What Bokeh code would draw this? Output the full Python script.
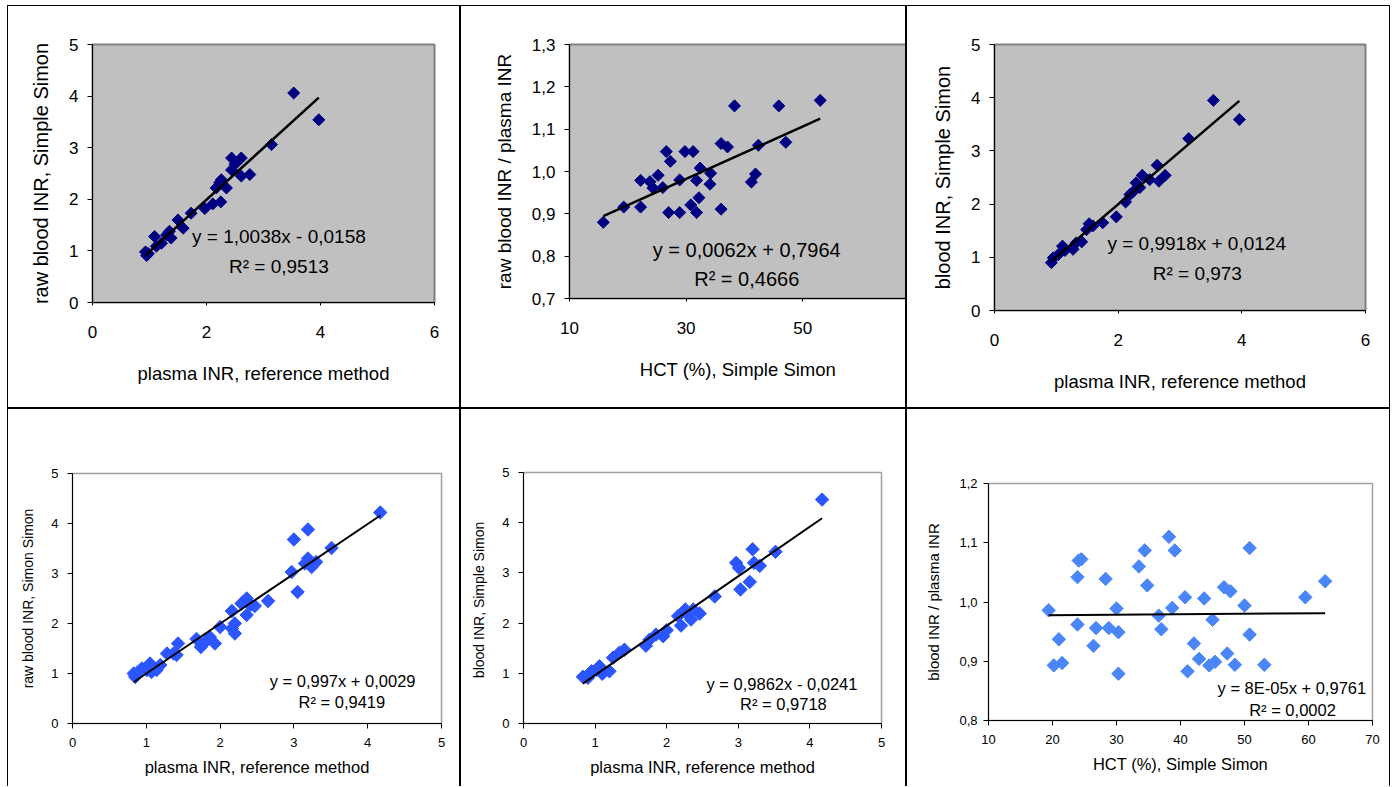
import numpy as np
from bokeh.plotting import figure
from bokeh.layouts import row, column
from bokeh.models import Range1d, FixedTicker, CustomJSTickFormatter, Label, Spacer
from bokeh.embed import file_html
from bokeh.resources import INLINE

FONT = "Liberation Sans"

# ---------------- data ----------------
# Panel 1: raw blood INR (Simple Simon) vs plasma INR
p1_x = [0.93, 0.95, 0.98, 1.09, 1.12, 1.21, 1.30, 1.38, 1.35, 1.50, 1.59, 1.73, 1.97,
        2.11, 2.25, 2.26, 2.35, 2.17, 2.23, 2.44, 2.44, 2.50, 2.61, 2.61, 2.76, 3.14, 3.53, 3.97]
p1_y = [0.98, 0.91, 0.95, 1.28, 1.09, 1.15, 1.31, 1.25, 1.38, 1.60, 1.44, 1.73, 1.82,
        1.91, 1.95, 2.38, 2.22, 2.22, 2.32, 2.80, 2.57, 2.68, 2.80, 2.45, 2.48, 3.06, 4.06, 3.54]
p1_fit = (1.0038, -0.0158)
p1_eq = ["y = 1,0038x - 0,0158", "R\u00b2 = 0,9513"]

# Panel 2: raw blood INR / plasma INR vs HCT
p2_x = [15.8, 19.3, 22.2, 22.2, 23.8, 24.3, 25.2, 26.0, 26.6, 27.3, 27.0, 28.9, 28.9, 29.8,
        30.8, 31.2, 31.8, 31.8, 32.2, 32.4, 34.2, 34.1, 36.0, 36.0, 37.1, 38.3, 41.2, 41.9,
        42.4, 45.9, 47.1, 53.0]
p2_y = [0.880, 0.916, 0.979, 0.916, 0.976, 0.961, 0.991, 0.962, 1.047, 1.024, 0.903, 0.980,
        0.903, 1.047, 0.921, 1.047, 0.979, 0.903, 0.938, 1.008, 0.996, 0.970, 0.911, 1.066,
        1.058, 1.155, 0.975, 0.994, 1.062, 1.155, 1.069, 1.168]
p2_fit = (0.0062, 0.7964)
p2_eq = ["y = 0,0062x + 0,7964", "R\u00b2 = 0,4666"]

# Panel 3: blood INR (Simple Simon) vs plasma INR
p3_x = [0.92, 0.95, 1.03, 1.10, 1.14, 1.27, 1.32, 1.41, 1.49, 1.53, 1.59, 1.75, 1.97, 2.12,
        2.19, 2.24, 2.29, 2.35, 2.39, 2.51, 2.63, 2.66, 2.76, 3.14, 3.54, 3.96]
p3_y = [0.90, 0.99, 1.05, 1.21, 1.13, 1.15, 1.27, 1.29, 1.52, 1.63, 1.59, 1.65, 1.76, 2.04,
        2.18, 2.23, 2.40, 2.31, 2.54, 2.46, 2.73, 2.43, 2.54, 3.23, 3.95, 3.59]
p3_fit = (0.9918, 0.0124)
p3_eq = ["y = 0,9918x + 0,0124", "R\u00b2 = 0,973"]

# Panel 4: raw blood INR (Simon Simon) vs plasma INR
p4_x = [0.85, 0.83, 0.89, 0.94, 1.01, 1.05, 1.07, 1.14, 1.19, 1.28, 1.37, 1.41, 1.43, 1.68,
        1.74, 1.80, 1.86, 1.93, 2.00, 2.16, 2.16, 2.20, 2.20, 2.29, 2.36, 2.36, 2.41, 2.47,
        2.65, 2.97, 3.00, 3.05, 3.15, 3.19, 3.19, 3.24, 3.30, 3.51, 4.17]
p4_y = [0.93, 1.00, 1.03, 1.10, 1.07, 1.20, 1.03, 1.07, 1.17, 1.40, 1.40, 1.37, 1.60, 1.69,
        1.53, 1.63, 1.73, 1.60, 1.93, 2.25, 1.90, 2.00, 1.80, 2.40, 2.50, 2.17, 2.37, 2.35,
        2.45, 3.03, 3.68, 2.63, 3.20, 3.88, 3.30, 3.13, 3.23, 3.51, 4.22]
p4_fit = (0.997, 0.0029)
p4_eq = ["y = 0,997x + 0,0029", "R\u00b2 = 0,9419"]

# Panel 5: blood INR (Simple Simon) vs plasma INR
p5_x = [0.83, 0.90, 0.95, 1.02, 1.06, 1.10, 1.20, 1.25, 1.34, 1.41, 1.71, 1.76, 1.85, 1.95,
        2.00, 2.16, 2.20, 2.26, 2.30, 2.34, 2.37, 2.46, 2.67, 2.97, 3.01, 3.03, 3.16, 3.20,
        3.22, 3.30, 3.52, 4.17]
p5_y = [0.93, 0.91, 1.04, 1.07, 1.14, 0.99, 1.04, 1.31, 1.41, 1.47, 1.55, 1.67, 1.77, 1.74,
        1.86, 2.14, 1.95, 2.27, 2.17, 2.07, 2.27, 2.19, 2.53, 3.20, 3.10, 2.67, 2.82, 3.47,
        3.20, 3.14, 3.42, 4.46]
p5_fit = (0.9862, -0.0241)
p5_eq = ["y = 0,9862x - 0,0241", "R\u00b2 = 0,9718"]

# Panel 6: blood INR / plasma INR vs HCT
p6_x = [19.4, 20.2, 21.0, 21.5, 23.9, 24.1, 24.5, 23.9, 26.4, 26.8, 28.3, 28.8, 30.0, 30.3,
        30.3, 33.5, 34.4, 34.8, 36.6, 37.0, 38.2, 38.7, 39.1, 40.7, 41.1, 42.1, 42.9, 43.7,
        44.5, 45.0, 45.4, 46.8, 47.3, 47.8, 48.5, 50.0, 50.8, 50.8, 53.1, 59.5, 62.6]
p6_y = [0.986, 0.893, 0.937, 0.897, 1.042, 1.070, 1.072, 0.962, 0.926, 0.956, 1.039, 0.956,
        0.989, 0.949, 0.879, 1.060, 1.087, 1.028, 0.977, 0.954, 1.110, 0.990, 1.087, 1.008,
        0.883, 0.930, 0.904, 1.006, 0.893, 0.970, 0.899, 1.025, 0.913, 1.018, 0.894, 0.994,
        1.091, 0.945, 0.894, 1.008, 1.035]
p6_fit = (0.00008, 0.9761)
p6_eq = ["y = 8E-05x + 0,9761", "R\u00b2 = 0,0002"]

ticks_inr6 = [0, 2, 4, 6]
ticks_inr5 = [0, 1, 2, 3, 4, 5]
ticks_y5 = [0, 1, 2, 3, 4, 5]
ticks_hct_top = [10, 30, 50]
ticks_hct_bot = [10, 20, 30, 40, 50, 60, 70]
ticks_ratio_top = [0.7, 0.8, 0.9, 1.0, 1.1, 1.2, 1.3]
ticks_ratio_bot = [0.8, 0.9, 1.0, 1.1, 1.2]

COMMA = CustomJSTickFormatter(code="return tick.toFixed(1).replace('.', ',');")

TOP = dict(bg="#C0C0C0", outline="#808080", ow=2, mcolor="#000080", msize=8.5,
           tick_fs="17px", xlab_fs="18.5px", ylab_fs="19px", eq_fs="19px", lw=2.5,
           x_tick_out=3, y_tick_out=5)
BOT = dict(bg="white", outline="#A0A0A0", ow=1.5, mcolor="#2A55FF", msize=9.5,
           tick_fs="13px", xlab_fs="16.5px", ylab_fs="14px", eq_fs="16.5px", lw=2,
           x_tick_out=5, y_tick_out=5)


def make(w, h, mb, xr, yr, xt, yt, xlab, ylab, xs, ys, fit, eq, eqpos, st,
         comma_y=False, ylab_fs=None, eq_fs=None, xstand=(18, 20), ystand=(8, 14),
         mcolor=None, bottom_border=True):
    p = figure(width=w, height=h, x_range=Range1d(*xr), y_range=Range1d(*yr),
               output_backend="svg", toolbar_location=None,
               min_border_left=mb[0], min_border_right=mb[1],
               min_border_top=mb[2], min_border_bottom=mb[3])
    p.xgrid.visible = False
    p.ygrid.visible = False
    p.background_fill_color = st["bg"]
    p.border_fill_color = "white"
    p.outline_line_color = st["outline"]
    p.outline_line_width = st["ow"]
    for ax, ticks, tout, stand in ((p.xaxis[0], xt, st["x_tick_out"], xstand),
                                  (p.yaxis[0], yt, st["y_tick_out"], ystand)):
        ax.ticker = FixedTicker(ticks=ticks, minor_ticks=[])
        ax.axis_line_color = "black"
        ax.axis_line_width = 1
        ax.major_tick_line_color = "black"
        ax.major_tick_in = 0
        ax.major_tick_out = tout
        ax.minor_tick_line_color = None
        ax.major_label_text_font = FONT
        ax.major_label_text_font_size = st["tick_fs"]
        ax.major_label_text_color = "black"
        ax.axis_label_text_font = FONT
        ax.axis_label_text_font_style = "normal"
        ax.axis_label_text_color = "black"
        ax.major_label_standoff = stand[0]
        ax.axis_label_standoff = stand[1]
    p.xaxis.axis_label = xlab
    p.yaxis.axis_label = ylab
    p.xaxis.axis_label_text_font_size = st["xlab_fs"]
    p.yaxis.axis_label_text_font_size = ylab_fs or st["ylab_fs"]
    if comma_y:
        p.yaxis.formatter = COMMA
    c = mcolor or st["mcolor"]
    p.scatter(xs, ys, marker="square", angle=np.pi / 4, size=st["msize"],
              fill_color=c, line_color=c)
    x0, x1 = min(xs), max(xs)
    p.line([x0, x1], [fit[0] * x0 + fit[1], fit[0] * x1 + fit[1]],
           line_color="black", line_width=st["lw"])
    for txt, (tx, ty) in zip(eq, eqpos):
        p.add_layout(Label(x=tx, y=ty, text=txt, text_align="center",
                           text_baseline="alphabetic", text_font=FONT,
                           text_font_size=eq_fs or st["eq_fs"], text_color="black"))
    if bottom_border:
        p.styles = {"border": "1px solid black"}
    else:
        p.styles = {"border": "1px solid black", "border-bottom": "none"}
    return p


TH = 403   # top row height
BH = 378   # bottom row height

f1 = make(453, TH, (84, 27, 38, 107), (0, 6), (0, 5), ticks_inr6, ticks_y5,
          "plasma INR, reference method", "raw blood INR, Simple Simon",
          p1_x, p1_y, p1_fit, p1_eq, [(3.27, 1.28), (3.27, 0.70)], TOP,
          ylab_fs="20px", xstand=(20, 22), ystand=(9, 14))
f2 = make(446, TH, (108, 1, 38, 111), (10, 67.8), (0.7, 1.3), ticks_hct_top, ticks_ratio_top,
          "HCT (%), Simple Simon", "raw blood INR / plasma INR",
          p2_x, p2_y, p2_fit, p2_eq, [(40.4, 0.8145), (40.4, 0.745)], TOP,
          comma_y=True, eq_fs="20px", xstand=(20, 22), ystand=(9, 14))
f3 = make(484, TH, (87, 26, 38, 99), (0, 6), (0, 5), ticks_inr6, ticks_y5,
          "plasma INR, reference method", "blood INR, Simple Simon",
          p3_x, p3_y, p3_fit, p3_eq, [(3.27, 1.26), (3.28, 0.69)], TOP,
          ylab_fs="20px", xstand=(20, 22), ystand=(9, 14))

f4 = make(453, BH, (64, 20, 64, 64), (0, 5), (0, 5), ticks_inr5, ticks_y5,
          "plasma INR, reference method", "raw blood INR, Simon Simon",
          p4_x, p4_y, p4_fit, p4_eq, [(3.66, 0.85), (3.65, 0.43)], BOT,
          xstand=(9, 8), ystand=(9, 12), bottom_border=False)
f5 = make(446, BH, (62, 26, 63, 64), (0, 5), (0, 5), ticks_inr5, ticks_y5,
          "plasma INR, reference method", "blood INR,  Simple Simon",
          p5_x, p5_y, p5_fit, p5_eq, [(3.61, 0.78), (3.63, 0.39)], BOT,
          xstand=(9, 8), ystand=(9, 12), bottom_border=False)
f6 = make(484, BH, (81, 19, 74, 67), (10, 70), (0.8, 1.2), ticks_hct_bot, ticks_ratio_bot,
          "HCT (%), Simple Simon", "blood INR / plasma INR",
          p6_x, p6_y, p6_fit, p6_eq, [(57.4, 0.8547), (57.5, 0.817)], BOT,
          comma_y=True, ylab_fs="15px", xstand=(9, 8), ystand=(6, 14),
          mcolor="#4A86F7", bottom_border=False)

layout = column(Spacer(width=10, height=5),
                row(Spacer(width=7, height=10), column(f1), column(f2), column(f3)),
                row(Spacer(width=7, height=10), column(f4), column(f5), column(f6)))
open("out.html", "w").write(file_html(layout, INLINE))
